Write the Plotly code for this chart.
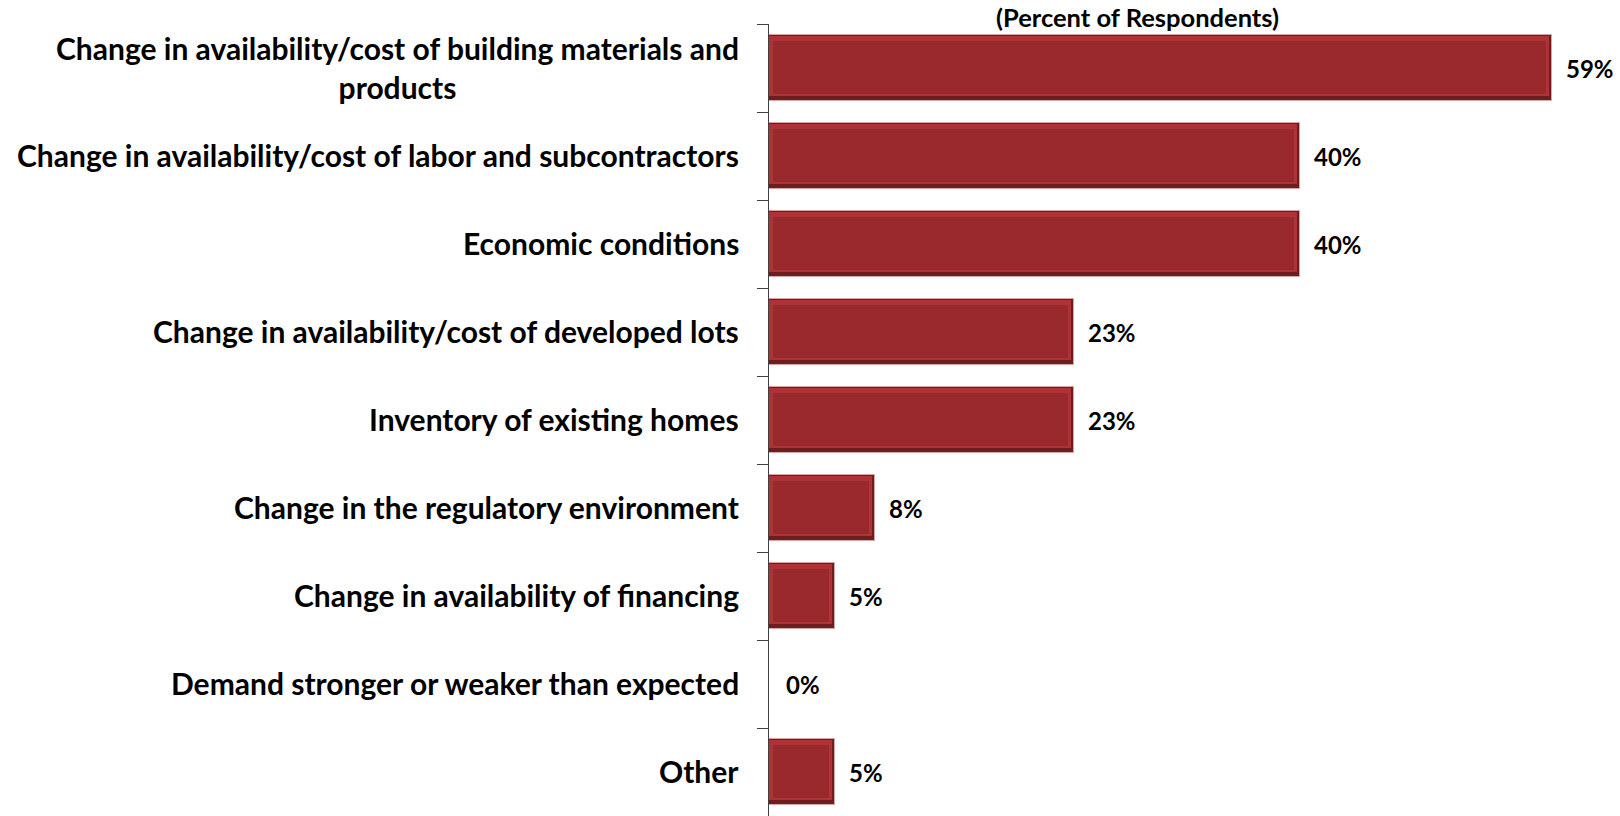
import plotly.graph_objects as go

# Survey results: factors cited by respondents
categories = [
    "Change in availability/cost of building materials and<br>products",
    "Change in availability/cost of labor and subcontractors",
    "Economic conditions",
    "Change in availability/cost of developed lots",
    "Inventory of existing homes",
    "Change in the regulatory environment",
    "Change in availability of financing",
    "Demand stronger or weaker than expected",
    "Other",
]
values = [59, 40, 40, 23, 23, 8, 5, 0, 5]
value_labels = ["59%", "40%", "40%", "23%", "23%", "8%", "5%", "0%", "5%"]
chart_title = "(Percent of Respondents)"

FONT = "Lato"
LEFT = 769            # left margin (axis position) in pixels
BAR_W = 0.76          # bar thickness in category units
PX_PER_CAT = 88.0     # plot height / number of categories
PX_PER_UNIT = 13.27   # horizontal pixels per percentage point
X_MAX = (1620 - LEFT) / PX_PER_UNIT

def cat_u(px):
    return px / PX_PER_CAT

def val_u(px):
    return px / PX_PER_UNIT

idx = list(range(len(categories)))

fig = go.Figure()

# Bevelled bars built from layered bars: dark base, light upper band, main face
fig.add_trace(go.Bar(
    y=idx, x=values, orientation="h", width=BAR_W, offset=-BAR_W / 2,
    marker=dict(color="#6f1c1f", line=dict(color="#d9a6a6", width=1)),
    hoverinfo="skip", showlegend=False,
))
fig.add_trace(go.Bar(
    y=idx, x=[max(v - val_u(3), 0) for v in values], orientation="h",
    width=BAR_W - cat_u(6), offset=-BAR_W / 2 + cat_u(1),
    marker=dict(color="#ae3337", line=dict(width=0)),
    hoverinfo="skip", showlegend=False,
))
fig.add_trace(go.Bar(
    y=idx, x=[max(v - val_u(10), 0) for v in values],
    base=[val_u(4) if v > 0 else 0 for v in values], orientation="h",
    width=BAR_W - cat_u(13), offset=-BAR_W / 2 + cat_u(6),
    marker=dict(color="#9a292d", line=dict(width=0)),
    hoverinfo="skip", showlegend=False,
))

annotations = []
# Category labels left of the axis, multi-line labels centred
for i, label in enumerate(categories):
    annotations.append(dict(
        x=0, y=i, xref="x", yref="y", text=label, showarrow=False,
        xanchor="right", yanchor="middle", align="center", xshift=-28,
        yshift=1,
        font=dict(family=FONT, size=30, color="#000000", weight="bold"),
    ))

# Value labels to the right of each bar
for i, (v, t) in enumerate(zip(values, value_labels)):
    annotations.append(dict(
        x=v, y=i, xref="x", yref="y", text=t, showarrow=False,
        xanchor="left", yanchor="middle", xshift=12 if v > 0 else 15,
        font=dict(family=FONT, size=24, color="#000000", weight="bold"),
    ))

annotations.append(dict(
    x=(1137 - LEFT) / (1620 - LEFT), y=1 + 7 / 792, xref="paper", yref="paper",
    text=chart_title, showarrow=False, xanchor="center", yanchor="middle",
    font=dict(family=FONT, size=25.5, color="#000000", weight="bold"),
))

fig.update_layout(
    width=1620, height=816,
    margin=dict(l=LEFT, r=0, t=24, b=0),
    paper_bgcolor="white", plot_bgcolor="white",
    barmode="overlay", bargap=0,
    font=dict(family=FONT),
    annotations=annotations,
    xaxis=dict(range=[0, X_MAX], visible=False, fixedrange=True),
    yaxis=dict(
        range=[len(categories) - 0.5, -0.5],
        tickmode="array", tickvals=[i - 0.5 for i in idx] + [len(idx) - 0.5],
        ticktext=[""] * (len(idx) + 1),
        showline=True, linecolor="#404040", linewidth=1,
        ticks="outside", ticklen=11, tickcolor="#404040", tickwidth=1,
        showgrid=False, zeroline=False, fixedrange=True,
    ),
)

fig.write_html("out.html")
